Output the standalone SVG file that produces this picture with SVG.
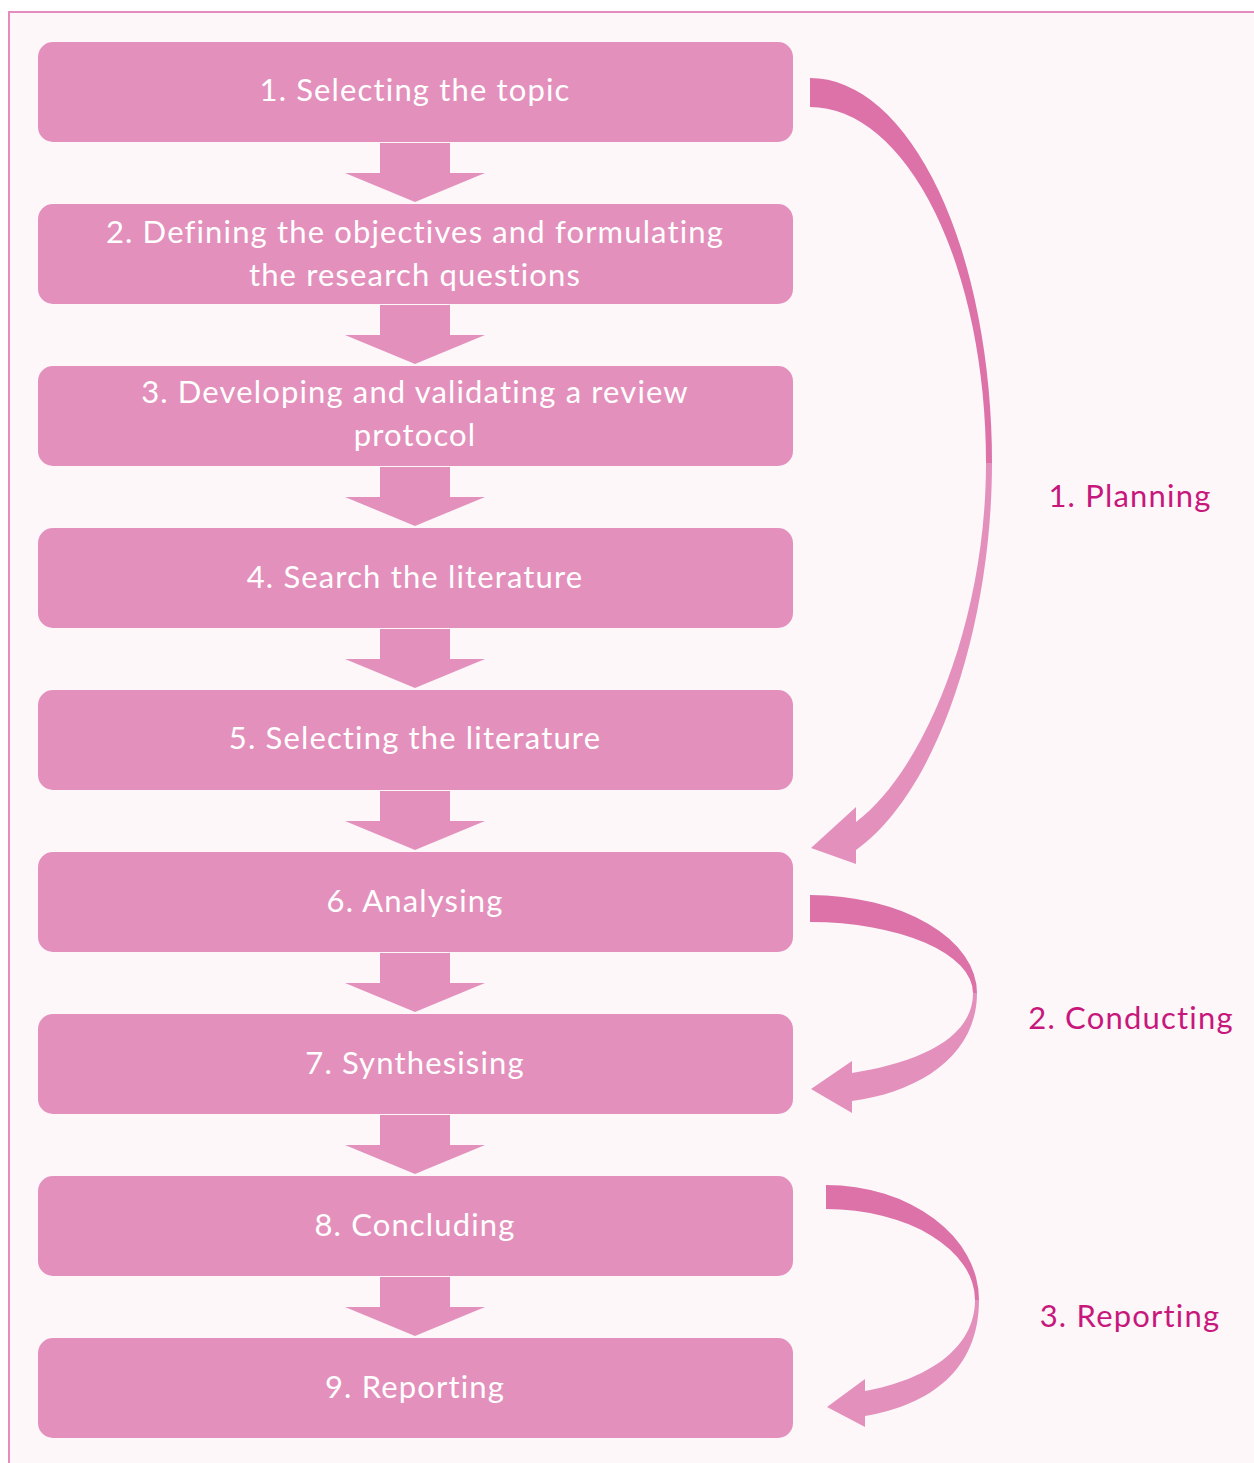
<svg xmlns="http://www.w3.org/2000/svg" width="1254" height="1463" viewBox="0 0 1254 1463">
<style>
.box{fill:#e391bc}
.bt{font-family:Lato,"Open Sans",sans-serif;font-size:31px;letter-spacing:1.15px;fill:#ffffff;text-anchor:middle}
.lbl{font-family:Lato,"Open Sans",sans-serif;font-size:31px;letter-spacing:1.2px;fill:#c8177c;text-anchor:middle}
.down{fill:#e391bc}
.dark{fill:#dc72a8}
.light{fill:#e391bc}
</style>
<rect x="0" y="0" width="1254" height="1463" fill="#ffffff"/>
<rect x="9" y="12" width="1245" height="1451" fill="#fdf7fa"/>
<path d="M9 1463 V12 H1254" fill="none" stroke="#e58cbf" stroke-width="2"/>
<defs>
<path id="dn" d="M380 0 H450 V30 H485 L415 59 L345 30 H380 Z"/>
</defs>
<g id="connectors">
<use href="#dn" class="down" y="143"/>
<use href="#dn" class="down" y="305"/>
<use href="#dn" class="down" y="467"/>
<use href="#dn" class="down" y="629"/>
<use href="#dn" class="down" y="791"/>
<use href="#dn" class="down" y="953"/>
<use href="#dn" class="down" y="1115"/>
<use href="#dn" class="down" y="1277"/>
<g id="arrow-planning">
<path class="dark" d="M810 78 A182 385 0 0 1 992 463 L986 463 A176 356 0 0 0 810 107 Z"/>
<path class="light" d="M992 463 C992 620 940 790 856 850 L856 864 L811 848 L856 807 L856 822 C925 770 986 620 986 463 Z"/>
</g>
<g id="arrow-conducting">
<path class="dark" d="M810 895 A167 98 0 0 1 977 993 L973 993 A163 71 0 0 0 810 922 Z"/>
<path class="light" d="M977 993 C977 1055 920 1092 852 1101 L852 1113 L811 1089 L852 1061 L852 1073 C915 1063 973 1040 973 993 Z"/>
</g>
<g id="arrow-reporting">
<path class="dark" d="M826 1185 A153 115 0 0 1 979 1300 L975 1300 A149 91 0 0 0 826 1209 Z"/>
<path class="light" d="M979 1300 C979 1370 930 1405 865 1416 L865 1427 L827 1407 L865 1379 L865 1391 C925 1380 975 1350 975 1300 Z"/>
</g>
</g>
<g id="n1"><rect class="box" x="38" y="42" width="755" height="100" rx="15"/><text class="bt" x="415" y="101">1. Selecting the topic</text></g>
<g id="n2"><rect class="box" x="38" y="204" width="755" height="100" rx="15"/><text class="bt" x="415" y="243">2. Defining the objectives and formulating</text><text class="bt" x="415" y="286">the research questions</text></g>
<g id="n3"><rect class="box" x="38" y="366" width="755" height="100" rx="15"/><text class="bt" x="415" y="403">3. Developing and validating a review</text><text class="bt" x="415" y="446">protocol</text></g>
<g id="n4"><rect class="box" x="38" y="528" width="755" height="100" rx="15"/><text class="bt" x="415" y="588">4. Search the literature</text></g>
<g id="n5"><rect class="box" x="38" y="690" width="755" height="100" rx="15"/><text class="bt" x="415" y="749">5. Selecting the literature</text></g>
<g id="n6"><rect class="box" x="38" y="852" width="755" height="100" rx="15"/><text class="bt" x="415" y="912">6. Analysing</text></g>
<g id="n7"><rect class="box" x="38" y="1014" width="755" height="100" rx="15"/><text class="bt" x="415" y="1074">7. Synthesising</text></g>
<g id="n8"><rect class="box" x="38" y="1176" width="755" height="100" rx="15"/><text class="bt" x="415" y="1236">8. Concluding</text></g>
<g id="n9"><rect class="box" x="38" y="1338" width="755" height="100" rx="15"/><text class="bt" x="415" y="1398">9. Reporting</text></g>
<g id="l1"><text class="lbl" x="1130" y="507">1. Planning</text></g>
<g id="l2"><text class="lbl" x="1131" y="1029">2. Conducting</text></g>
<g id="l3"><text class="lbl" x="1130" y="1327">3. Reporting</text></g>
</svg>
